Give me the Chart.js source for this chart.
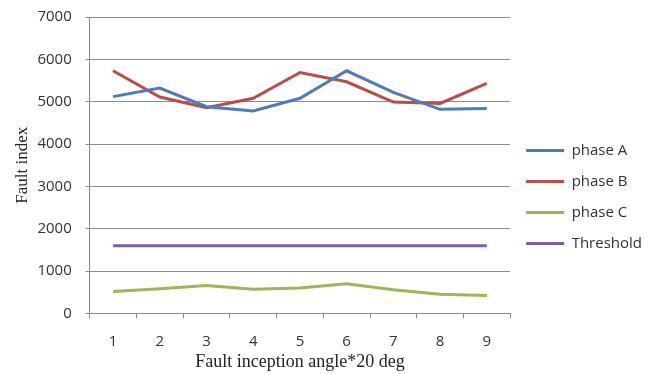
<!DOCTYPE html>
<html>
<head>
<meta charset="utf-8">
<script src="https://cdn.jsdelivr.net/npm/chart.js@4.4.1/dist/chart.umd.min.js"></script>
<style>
  html, body { margin: 0; background: #fff; }
  #wrap { width: 662px; height: 374px; }
</style>
</head>
<body>
<div id="wrap"><canvas id="faultChart"></canvas></div>
<script>
// fault index per inception angle step (x20 deg)
const angles = ["1", "2", "3", "4", "5", "6", "7", "8", "9"];
const phaseA = [5120, 5320, 4880, 4780, 5080, 5730, 5220, 4820, 4840];
const phaseB = [5730, 5110, 4860, 5080, 5690, 5470, 4990, 4960, 5430];
const phaseC = [520, 580, 660, 570, 600, 700, 560, 450, 420];
const threshold = [1600, 1600, 1600, 1600, 1600, 1600, 1600, 1600, 1600];

const gridGrey = "#8c8c8c";
const textDark = "#333333";
const sans = "'Open Sans', sans-serif";
const serif = "'Liberation Serif', 'Times New Roman', serif";

function series(label, data, color) {
  return {
    label,
    data,
    borderColor: color,
    backgroundColor: color,
    borderWidth: 3,
    pointRadius: 0,
    tension: 0,
    fill: false,
  };
}

new Chart(document.getElementById("faultChart"), {
  type: "line",
  data: {
    labels: angles,
    datasets: [
      series("phase A", phaseA, "#4a7ebb"),
      series("phase B", phaseB, "#be4b48"),
      series("phase C", phaseC, "#98b954"),
      series("Threshold", threshold, "#7d60a0"),
    ],
  },
  options: {
    responsive: true,
    maintainAspectRatio: false,
    animation: false,
    layout: { padding: { left: 12, top: 0, right: 10, bottom: 0 } },
    plugins: {
      legend: {
        position: "right",
        align: "center",
        // empty title just pushes the items a bit lower
        title: { display: true, text: "", padding: 4, font: { size: 10 } },
        labels: {
          usePointStyle: true,
          pointStyle: "line",
          pointStyleWidth: 38,
          padding: 16,
          color: textDark,
          font: { family: sans, size: 15 },
        },
      },
      tooltip: { enabled: false },
    },
    scales: {
      x: {
        offset: true,
        grid: {
          offset: true,
          drawOnChartArea: false,
          drawTicks: true,
          tickLength: 5,
          color: gridGrey,
        },
        border: { display: true, color: gridGrey },
        ticks: { color: textDark, padding: 14, font: { family: sans, size: 15 } },
        title: {
          display: true,
          text: "Fault inception angle*20 deg",
          color: "#222",
          padding: { top: -13, bottom: 1 },
          font: { family: serif, size: 18 },
        },
      },
      y: {
        min: 0,
        max: 7000,
        // keep the top gridline close to the canvas edge
        afterFit: (scale) => {
          scale.paddingTop = 17;
        },
        grid: { color: gridGrey, tickLength: 4 },
        border: { display: true, color: gridGrey },
        ticks: {
          stepSize: 1000,
          color: textDark,
          padding: 14,
          font: { family: sans, size: 15 },
          callback: (v) => String(v),
        },
        title: {
          display: true,
          text: "Fault index",
          color: "#222",
          padding: { top: 0, bottom: -9 },
          font: { family: serif, size: 17 },
        },
      },
    },
  },
});
</script>
</body>
</html>
